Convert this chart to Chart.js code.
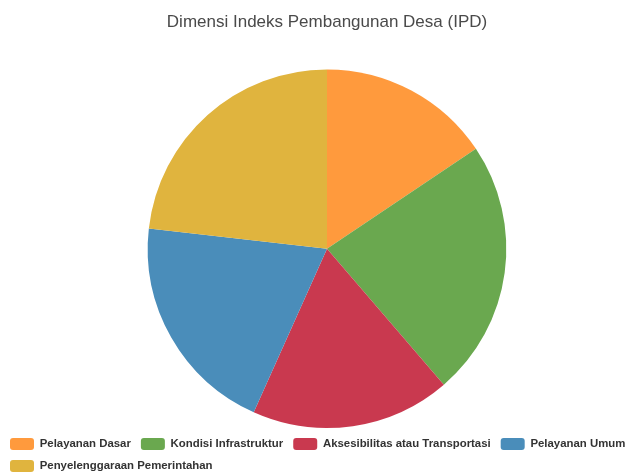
<!DOCTYPE html>
<html>
<head>
<meta charset="utf-8">
<script src="https://cdn.jsdelivr.net/npm/chart.js@4"></script>
<style>
  html, body { margin: 0; padding: 0; background: #fff; }
  #wrap { width: 640px; height: 473px; }
</style>
</head>
<body>
<div id="wrap"><canvas id="ipdChart"></canvas></div>
<script>
const labels = [
    'Pelayanan Dasar',
    'Kondisi Infrastruktur',
    'Aksesibilitas atau Transportasi',
    'Pelayanan Umum',
    'Penyelenggaraan Pemerintahan'
];
const dimensionValues = [15.6, 23.1, 18.0, 20.1, 23.2];
const sliceColors = ['#FF9A3D', '#6AA84F', '#C9394F', '#4A8DBA', '#E0B43E'];

// nudge the pie and title a little right of the canvas centre
const shiftRight = {
    id: 'shiftRight',
    afterLayout(chart) {
        chart.chartArea.left += 14;
        chart.chartArea.width -= 14;
        if (chart.titleBlock) chart.titleBlock.left += 14;
    }
};

const ctx = document.getElementById('ipdChart').getContext('2d');
const chart = new Chart(ctx, {
    type: 'pie',
    data: {
        labels: labels,
        datasets: [{
            data: dimensionValues,
            backgroundColor: sliceColors,
            borderWidth: 0
        }]
    },
    plugins: [shiftRight],
    options: {
        responsive: true,
        maintainAspectRatio: false,
        animation: false,
        layout: { padding: { top: 0, bottom: -9, left: 0, right: 0 } },
        plugins: {
            title: {
                display: true,
                text: 'Dimensi Indeks Pembangunan Desa (IPD)',
                color: '#4a4a4a',
                font: { family: 'Liberation Sans', size: 17, weight: 'normal' },
                padding: { top: 12, bottom: 37 }
            },
            legend: {
                position: 'bottom',
                align: 'start',
                labels: {
                    color: '#333',
                    boxWidth: 24,
                    boxHeight: 12,
                    useBorderRadius: true,
                    borderRadius: 3,
                    padding: 10,
                    font: { family: 'Liberation Sans', size: 11.4, weight: 'bold' }
                }
            },
            tooltip: { enabled: false }
        }
    }
});
</script>
</body>
</html>
